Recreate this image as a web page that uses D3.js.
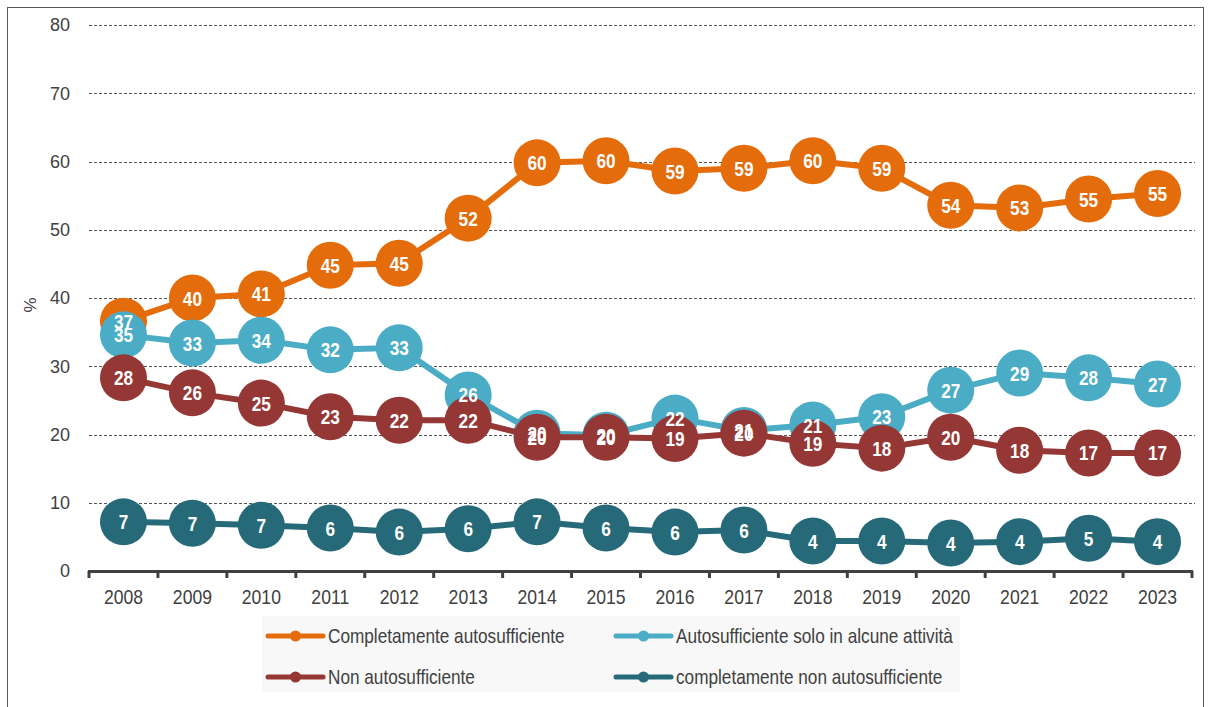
<!DOCTYPE html>
<html>
<head>
<meta charset="utf-8">
<script src="https://cdn.jsdelivr.net/npm/d3@7"></script>
<style>
  body { margin: 0; background: #fff; }
  svg { display: block; }
</style>
</head>
<body>
<script>
var YEARS = ["2008","2009","2010","2011","2012","2013","2014","2015","2016","2017","2018","2019","2020","2021","2022","2023"];

var COMPLETE   = [36.6, 40.0, 40.6, 44.8, 45.1, 51.7, 59.8, 60.1, 58.6, 59.0, 60.1, 59.0, 53.6, 53.2, 54.5, 55.3];
var PARTIAL    = [34.6, 33.4, 33.8, 32.4, 32.7, 25.8, 20.2, 19.9, 22.4, 20.6, 21.4, 22.6, 26.5, 29.0, 28.3, 27.4];
var NOT_SELF   = [28.3, 26.1, 24.6, 22.6, 22.1, 22.1, 19.6, 19.6, 19.4, 20.2, 18.7, 18.0, 19.6, 17.7, 17.3, 17.3];
var NOT_AT_ALL = [7.2, 7.0, 6.7, 6.3, 5.7, 6.2, 7.2, 6.3, 5.7, 6.0, 4.4, 4.4, 4.1, 4.3, 4.8, 4.3];

var SERIES_NAMES = ["Completamente autosufficiente", "Autosufficiente solo in alcune attività",
                    "Non autosufficiente", "completamente non autosufficiente"];
var COLORS = ["#e46c0a", "#4bacc6", "#953735", "#266a7a"];
var Y_TICKS = [0, 10, 20, 30, 40, 50, 60, 70, 80];

var W = 1208, H = 707;
var SANS = "'Liberation Sans', Arial, sans-serif";

var series = [COMPLETE, PARTIAL, NOT_SELF, NOT_AT_ALL].map(function (vals, i) {
    return { name: SERIES_NAMES[i], color: COLORS[i],
             values: vals.map(function (v, j) { return { year: YEARS[j], v: v }; }) };
});

var svg = d3.select("body").append("svg")
    .attr("width", W)
    .attr("height", H);

// outer frame
svg.append("rect")
    .attr("x", 7.5).attr("y", 7.5)
    .attr("width", 1196).attr("height", 720)
    .attr("fill", "none")
    .attr("stroke", "#595959")
    .attr("stroke-width", 1);

var x = d3.scaleBand().domain(YEARS).range([89, 1192]).padding(0);
var y = d3.scaleLinear().domain([0, 80]).range([571, 25]);
function cx(d) { return x(d.year) + x.bandwidth() / 2; }

// condensed text: no narrow font installed, so squeeze horizontally
function narrowText(sel, px, py, sx) {
    return sel.append("g")
        .attr("transform", "translate(" + px + "," + py + ") scale(" + sx + ",1)")
        .append("text");
}

// gridlines
svg.append("g").selectAll("line")
    .data(Y_TICKS.filter(function (t) { return t > 0; }))
    .join("line")
    .attr("x1", 89).attr("x2", 1195)
    .attr("y1", function (d) { return Math.round(y(d)) + 0.5; })
    .attr("y2", function (d) { return Math.round(y(d)) + 0.5; })
    .attr("stroke", "#555")
    .attr("stroke-width", 1)
    .attr("stroke-dasharray", "3,2");

// y axis labels
var yAxis = d3.axisLeft(y).tickValues(Y_TICKS).tickSize(0).tickPadding(0);
var gy = svg.append("g").attr("transform", "translate(70,0)").call(yAxis);
gy.select(".domain").remove();
gy.selectAll("text")
    .attr("font-family", SANS)
    .attr("font-size", 18)
    .attr("fill", "#404040");

svg.append("text")
    .attr("transform", "translate(36,305) rotate(-90)")
    .attr("text-anchor", "middle")
    .attr("font-family", SANS)
    .attr("font-size", 17)
    .attr("fill", "#404040")
    .text("%");

// x axis
var bounds = YEARS.map(function (d) { return x(d); }).concat([x(YEARS[YEARS.length - 1]) + x.bandwidth()]);
svg.append("g").selectAll("line")
    .data(bounds)
    .join("line")
    .attr("x1", function (d) { return d; })
    .attr("x2", function (d) { return d; })
    .attr("y1", 571).attr("y2", 578)
    .attr("stroke", "#404040")
    .attr("stroke-width", 3);
svg.append("line")
    .attr("x1", 88).attr("x2", 1193)
    .attr("y1", 571.5).attr("y2", 571.5)
    .attr("stroke", "#404040")
    .attr("stroke-width", 3);

var gx = svg.append("g");
YEARS.forEach(function (yr) {
    narrowText(gx, x(yr) + x.bandwidth() / 2, 604, 0.88)
        .attr("text-anchor", "middle")
        .attr("font-family", SANS)
        .attr("font-size", 20)
        .attr("fill", "#404040")
        .text(yr);
});

// series
var line = d3.line()
    .x(cx)
    .y(function (d) { return y(d.v); });

series.forEach(function (s) {
    var g = svg.append("g");
    g.append("path")
        .datum(s.values)
        .attr("d", line)
        .attr("fill", "none")
        .attr("stroke", s.color)
        .attr("stroke-width", 6)
        .attr("stroke-linejoin", "round");
    g.selectAll("circle")
        .data(s.values)
        .join("circle")
        .attr("cx", cx)
        .attr("cy", function (d) { return y(d.v); })
        .attr("r", 23.5)
        .attr("fill", s.color);
});

// value labels on top
series.forEach(function (s) {
    var g = svg.append("g");
    s.values.forEach(function (d) {
        narrowText(g, cx(d), y(d.v), 0.82)
            .attr("dy", "0.36em")
            .attr("text-anchor", "middle")
            .attr("font-family", SANS)
            .attr("font-weight", "bold")
            .attr("font-size", 21)
            .attr("fill", "#fff")
            .text(Math.round(d.v));
    });
});

// legend
var lg = svg.append("g");
lg.append("rect")
    .attr("x", 262).attr("y", 616)
    .attr("width", 698).attr("height", 76)
    .attr("fill", "#f8f8f8");

var legendPos = [[268, 636], [616, 636], [268, 677], [616, 677]];
series.forEach(function (s, i) {
    var p = legendPos[i];
    lg.append("line")
        .attr("x1", p[0]).attr("x2", p[0] + 55)
        .attr("y1", p[1]).attr("y2", p[1])
        .attr("stroke", s.color)
        .attr("stroke-width", 5)
        .attr("stroke-linecap", "round");
    lg.append("circle")
        .attr("cx", p[0] + 27.5).attr("cy", p[1])
        .attr("r", 5.5)
        .attr("fill", s.color);
    narrowText(lg, p[0] + 60, p[1], 0.86)
        .attr("dy", "0.36em")
        .attr("font-family", SANS)
        .attr("font-size", 20)
        .attr("fill", "#404040")
        .text(s.name);
});
</script>
</body>
</html>
